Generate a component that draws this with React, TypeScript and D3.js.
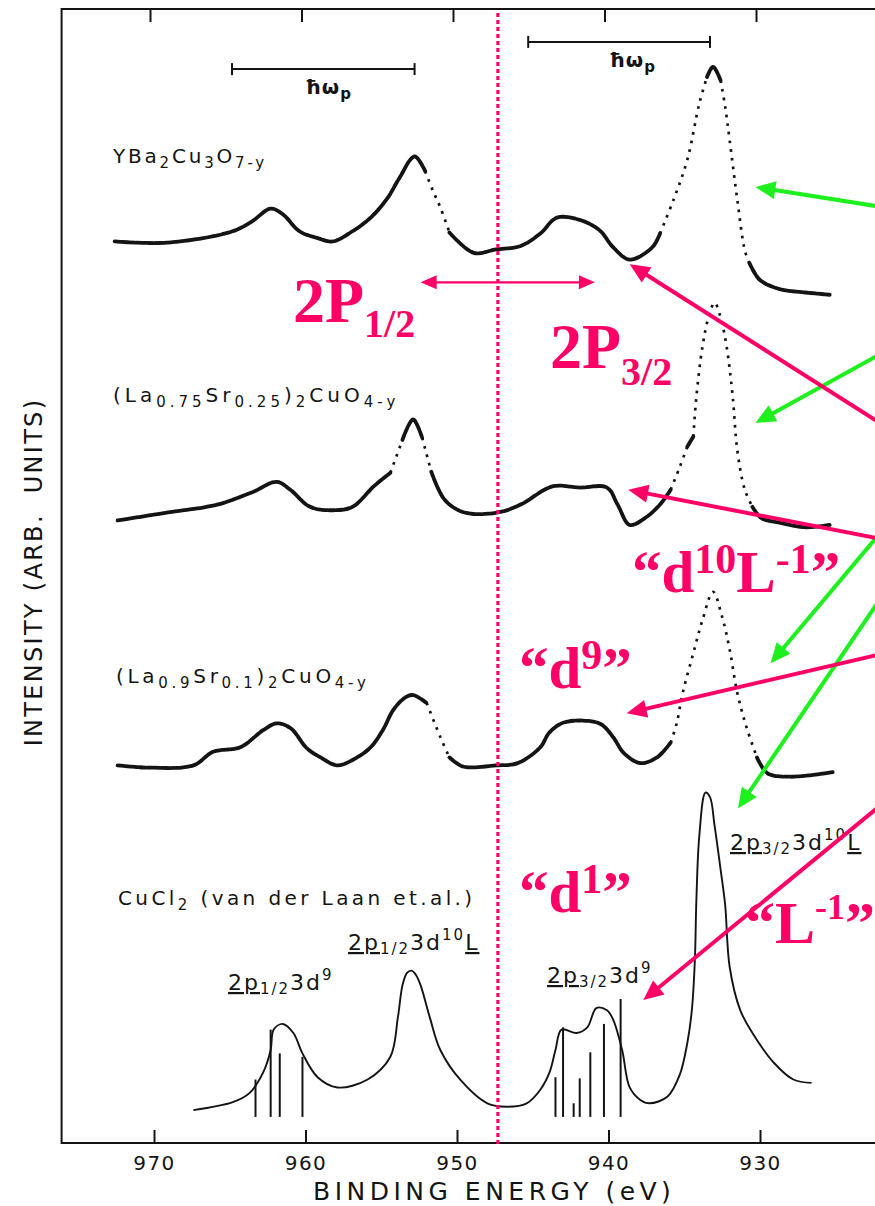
import React, { useEffect, useRef } from "react";
import * as d3 from "d3";

type Pt = [number, number];

// binding energy ticks (eV)
const energyTicks = [970, 960, 950, 940, 930];

// spectra: [binding energy (eV), intensity (arb. units, stacked offset)]
const ybco: Pt[] = [
  [972.6, 79.5], [969.1, 79.4], [964.8, 80.4], [963.5, 81.3], [962.3, 82.4], [961.5, 81.9],
  [960.4, 80.4], [959.2, 79.8], [958.2, 79.5], [956.9, 80.4], [955.7, 81.6], [954.6, 83.3],
  [953.8, 85.1], [952.8, 87.0], [952.1, 85.7], [951.6, 84.0], [951.1, 82.5], [950.5, 80.3],
  [948.9, 78.5], [947.4, 78.8], [945.8, 79.1], [944.5, 80.2], [943.4, 81.6], [941.9, 81.4],
  [940.6, 80.5], [939.7, 79.0], [938.6, 77.9], [937.1, 79.0], [936.6, 80.2], [935.7, 83.2],
  [934.8, 86.7], [934.0, 91.7], [933.5, 94.0], [933.1, 94.9], [932.6, 93.7], [932.3, 91.4],
  [932.0, 88.4], [931.5, 83.2], [931.0, 78.7], [930.7, 77.6], [930.0, 76.1], [928.7, 75.3],
  [927.0, 75.0], [925.4, 74.8],
];

const la075: Pt[] = [
  [972.4, 54.9], [969.1, 55.6], [965.8, 56.3], [963.5, 57.4], [961.9, 58.3], [961.0, 57.6],
  [959.7, 56.1], [958.2, 55.8], [956.9, 56.1], [955.5, 57.9], [954.4, 59.1], [953.6, 62.0],
  [952.9, 63.8], [952.3, 62.2], [951.7, 59.2], [950.8, 56.7], [949.5, 55.6], [947.3, 55.6],
  [945.8, 56.3], [943.7, 57.9], [941.9, 57.8], [940.1, 57.8], [939.4, 56.3], [938.6, 54.5],
  [937.6, 55.1], [936.6, 56.3], [935.9, 57.6], [935.3, 59.6], [934.8, 61.4], [934.4, 62.3],
  [934.2, 65.8], [933.8, 70.2], [933.4, 72.8], [933.0, 74.1], [932.6, 72.8], [932.2, 70.2],
  [931.8, 65.8], [931.5, 61.1], [931.0, 57.6], [930.5, 56.1], [929.9, 55.1], [928.7, 54.7],
  [927.0, 54.3], [925.4, 54.5],
];

const la09: Pt[] = [
  [972.4, 33.3], [970.3, 33.1], [967.4, 33.3], [966.1, 34.5], [964.3, 34.9], [962.8, 36.4],
  [961.9, 37.0], [961.0, 36.6], [959.9, 34.8], [959.0, 34.0], [957.9, 33.3], [956.6, 34.0],
  [955.7, 34.9], [954.9, 36.4], [954.2, 38.2], [953.4, 39.3], [952.9, 39.5], [952.0, 38.8],
  [951.1, 35.8], [950.5, 34.0], [949.6, 33.2], [947.4, 33.3], [946.0, 33.5], [944.5, 34.9],
  [943.9, 36.2], [942.9, 37.1], [940.6, 37.0], [939.7, 35.8], [939.0, 34.4], [937.9, 33.5],
  [936.8, 34.0], [935.9, 35.3], [935.5, 37.0], [935.1, 39.7], [934.4, 43.2], [933.8, 46.1],
  [933.1, 48.6], [932.5, 46.4], [932.0, 43.5], [931.5, 39.7], [930.9, 36.7], [930.2, 34.0],
  [929.5, 32.6], [928.0, 32.3], [925.2, 32.7],
];

const cucl2: Pt[] = [
  [967.4, 2.9], [964.8, 3.6], [963.7, 4.4], [962.8, 6.2], [962.3, 8.2], [962.1, 10.0],
  [961.5, 10.5], [960.8, 9.7], [960.2, 7.9], [959.2, 5.8], [957.9, 4.9], [955.9, 5.6],
  [954.4, 7.6], [953.9, 11.1], [953.6, 13.9], [953.3, 15.0], [953.0, 15.2], [952.7, 14.8],
  [952.4, 13.9], [951.8, 11.1], [951.1, 8.2], [949.8, 5.6], [948.0, 3.5], [946.7, 3.2],
  [945.4, 3.5], [944.5, 4.7], [943.9, 6.2], [943.5, 8.2], [943.1, 10.0], [942.1, 9.7],
  [941.4, 10.2], [940.8, 11.9], [940.1, 11.7], [939.7, 10.9], [939.1, 8.2], [938.6, 4.9],
  [937.9, 3.8], [937.3, 3.5], [936.1, 4.1], [935.3, 6.0], [934.8, 8.8], [934.5, 11.7],
  [934.3, 16.1], [934.2, 21.4], [934.0, 27.2], [933.6, 30.9], [933.3, 30.5], [933.0, 28.0],
  [932.6, 24.1], [932.3, 21.0], [932.0, 15.5], [931.3, 11.7], [930.5, 9.7], [929.1, 7.1],
  [927.8, 5.6], [926.6, 5.3],
];

// multiplet sticks under CuCl2: [energy, height]
const cucl2Sticks: Pt[] = [
  [963.3, 5.6], [962.3, 10.0], [961.7, 7.9], [960.2, 7.6],
  [943.5, 5.8], [943.0, 10.2], [942.3, 3.5], [941.9, 5.7], [941.2, 8.0], [940.3, 10.5], [939.2, 12.7],
];
const stickBase = 2.3;

// plasmon bars: [from eV, to eV, level]
const plasmonBars: [number, number, number][] = [
  [964.85, 952.8, 94.7],
  [945.3, 933.3, 97.1],
];

// annotation arrows [start, tip] in (eV, intensity)
const greenArrows: [Pt, Pt][] = [
  [[921.75, 82.5], [930.3, 84.3]],
  [[921.75, 69.8], [930.3, 63.5]],
  [[921.75, 54.3], [929.3, 42.3]],
  [[921.75, 48.6], [931.45, 29.5]],
];
const pinkArrows: [Pt, Pt][] = [
  [[921.75, 63.2], [938.6, 77.5]],
  [[921.75, 53.2], [938.7, 57.6]],
  [[921.75, 43.2], [938.8, 37.9]],
  [[921.75, 30.1], [937.7, 12.6]],
];
const splitArrow: [number, number, number] = [952.4, 940.9, 75.9];
const dividerEnergy = 947.3;

const PINK = "#ff0066";
const GREEN = "#1ef01e";
const INK = "#141414";
const SANS = "DejaVu Sans, sans-serif";
const SERIF = "Liberation Serif, Times New Roman, serif";

type Part = { t: string; pos?: "sub" | "sup"; u?: boolean };

function addLabel(g: any, x: number, y: number, parts: Part[], o: any) {
  const text = g.append("text")
    .attr("x", x).attr("y", y)
    .attr("font-family", o.font)
    .attr("font-weight", o.weight || "normal")
    .attr("fill", o.fill)
    .attr("letter-spacing", o.ls || 0)
    .attr("font-size", o.size)
    .style("white-space", "pre");
  let shift = 0;
  parts.forEach((p) => {
    const target = p.pos === "sub" ? o.subShift : p.pos === "sup" ? o.supShift : 0;
    const ts = text.append("tspan")
      .attr("dy", target - shift)
      .attr("font-size", p.pos ? o.small : o.size)
      .text(p.t);
    if (p.u) ts.attr("text-decoration", "underline");
    shift = target;
  });
}

function arrow(g: any, s: Pt, t: Pt, color: string, width: number, headLen: number, headHalf: number, both = false) {
  const dx = t[0] - s[0], dy = t[1] - s[1];
  const len = Math.hypot(dx, dy);
  const ux = dx / len, uy = dy / len;
  const nx = -uy, ny = ux;
  const head = (tx: number, ty: number, ax: number, ay: number) => {
    const bx = tx - ax * headLen, by = ty - ay * headLen;
    g.append("path")
      .attr("d", `M${tx},${ty}L${bx + nx * headHalf},${by + ny * headHalf}L${bx - nx * headHalf},${by - ny * headHalf}Z`)
      .attr("fill", color);
  };
  const a: Pt = both ? [s[0] + ux * headLen * 0.8, s[1] + uy * headLen * 0.8] : s;
  const b: Pt = [t[0] - ux * headLen * 0.8, t[1] - uy * headLen * 0.8];
  g.append("path")
    .attr("d", d3.line()([a, b]))
    .attr("stroke", color).attr("stroke-width", width).attr("fill", "none");
  head(t[0], t[1], ux, uy);
  if (both) head(s[0], s[1], -ux, -uy);
}

function drawChart(node: SVGSVGElement) {
  const svg = d3.select(node);
  svg.selectAll("*").remove();

  const x = d3.scaleLinear().domain([970, 930]).range([154, 760]);
  const y = d3.scaleLinear().domain([0, 100]).range([1143, 9]);

  const g = svg.append("g");

  // frame
  g.append("path")
    .attr("d", `M${x(916)},${y(100)}H${x(976.1)}V${y(0)}H${x(916)}`)
    .attr("fill", "none").attr("stroke", INK).attr("stroke-width", 2);

  // bottom axis (ticks pointing inward)
  const bottom = g.append("g")
    .attr("transform", `translate(0,${y(0)})`)
    .call(d3.axisBottom(x).tickValues(energyTicks).tickSizeInner(-13).tickSizeOuter(0).tickPadding(13));
  bottom.select(".domain").remove();
  bottom.selectAll("line").attr("stroke", INK).attr("stroke-width", 2);
  bottom.selectAll("text")
    .attr("font-family", SANS).attr("font-size", 20).attr("letter-spacing", 1.5)
    .attr("fill", INK);

  // top axis (slightly skewed in the scan)
  const top = g.append("g")
    .attr("transform", `translate(-4,${y(100)})`)
    .call(d3.axisTop(x).tickValues(energyTicks).tickSizeInner(-13).tickSizeOuter(0).tickFormat(() => ""));
  top.select(".domain").remove();
  top.selectAll("line").attr("stroke", INK).attr("stroke-width", 2);

  // axis titles
  g.append("text")
    .attr("x", 313).attr("y", 1200)
    .attr("font-family", SANS).attr("font-size", 25).attr("letter-spacing", 4.5)
    .attr("fill", INK).text("BINDING ENERGY (eV)");
  g.append("text")
    .attr("transform", "translate(42,572) rotate(-90)")
    .attr("text-anchor", "middle")
    .attr("font-family", SANS).attr("font-size", 24).attr("letter-spacing", 2.3)
    .attr("fill", INK).style("white-space", "pre")
    .text("INTENSITY (ARB.  UNITS)");

  // plasmon bars
  plasmonBars.forEach(([a, b, v]) => {
    g.append("path")
      .attr("d", d3.line()([[x(a), y(v)], [x(b), y(v)]]))
      .attr("stroke", INK).attr("stroke-width", 2);
    [a, b].forEach((e) => {
      g.append("path")
        .attr("d", d3.line()([[x(e), y(v) - 6], [x(e), y(v) + 6]]))
        .attr("stroke", INK).attr("stroke-width", 2);
    });
  });
  const hw = { font: SANS, weight: "bold", size: 20, small: 15, subShift: 5, fill: INK, ls: 1 };
  addLabel(g, 305, 94, [{ t: "\u0127\u03C9" }, { t: "p", pos: "sub" }], hw);
  addLabel(g, 609, 67, [{ t: "\u0127\u03C9" }, { t: "p", pos: "sub" }], hw);

  // noisy measured spectra: smooth runs, steep flanks drawn as sparse dots
  const smooth = d3.line<Pt>().curve(d3.curveCatmullRom.alpha(0.5));
  const drawNoisy = (data: Pt[]) => {
    const pts = data.map((d) => [x(d[0]), y(d[1])] as Pt);
    const steep = pts.slice(1).map((p, i) =>
      Math.abs(p[1] - pts[i][1]) / Math.max(0.1, Math.abs(p[0] - pts[i][0])) > 2.2);
    let i = 0;
    while (i < steep.length) {
      let j = i;
      while (j + 1 < steep.length && steep[j + 1] === steep[i]) j++;
      const run = pts.slice(Math.max(0, i - 1), Math.min(pts.length, j + 3));
      const core = pts.slice(i, j + 2);
      g.append("path")
        .attr("d", smooth(run.length > core.length ? core : core))
        .attr("fill", "none").attr("stroke", INK)
        .attr("stroke-width", steep[i] ? 2.7 : 3.8)
        .attr("stroke-linecap", steep[i] ? "butt" : "round")
        .attr("stroke-linejoin", "round")
        .attr("stroke-dasharray", steep[i] ? "2.7 6" : "6 1.3");
      i = j + 1;
    }
  };
  [ybco, la075, la09].forEach(drawNoisy);

  // CuCl2 reference
  g.append("path")
    .datum(cucl2)
    .attr("d", d3.line<Pt>().x((d) => x(d[0])).y((d) => y(d[1])).curve(d3.curveCatmullRom.alpha(0.5)))
    .attr("fill", "none").attr("stroke", INK).attr("stroke-width", 1.9);
  cucl2Sticks.forEach(([e, h]) => {
    g.append("path")
      .attr("d", d3.line()([[x(e), y(stickBase)], [x(e), y(h)]]))
      .attr("stroke", INK).attr("stroke-width", 2);
  });

  // sample labels
  const lab = { font: SANS, size: 20, small: 15, subShift: 5, supShift: -8, fill: INK };
  addLabel(g, 113, 163, [{ t: "YBa" }, { t: "2", pos: "sub" }, { t: "Cu" }, { t: "3", pos: "sub" }, { t: "O" }, { t: "7-y", pos: "sub" }], { ...lab, ls: 2.8 });
  addLabel(g, 113, 402, [{ t: "(La" }, { t: "0.75", pos: "sub" }, { t: "Sr" }, { t: "0.25", pos: "sub" }, { t: ")" }, { t: "2", pos: "sub" }, { t: "CuO" }, { t: "4-y", pos: "sub" }], { ...lab, ls: 4 });
  addLabel(g, 116, 683, [{ t: "(La" }, { t: "0.9", pos: "sub" }, { t: "Sr" }, { t: "0.1", pos: "sub" }, { t: ")" }, { t: "2", pos: "sub" }, { t: "CuO" }, { t: "4-y", pos: "sub" }], { ...lab, ls: 3.7 });
  addLabel(g, 118, 905, [{ t: "CuCl" }, { t: "2", pos: "sub" }, { t: " (van der Laan et.al.)" }], { ...lab, ls: 3.4 });

  const pk = { font: SANS, size: 22, small: 15, subShift: 4, supShift: -10, fill: INK, ls: 2 };
  addLabel(g, 228, 990, [{ t: "2p", u: true }, { t: "1/2", pos: "sub" }, { t: "3d" }, { t: "9", pos: "sup" }], pk);
  addLabel(g, 348, 950, [{ t: "2p", u: true }, { t: "1/2", pos: "sub" }, { t: "3d" }, { t: "10", pos: "sup" }, { t: "L", u: true }], pk);
  addLabel(g, 547, 983, [{ t: "2p", u: true }, { t: "3/2", pos: "sub" }, { t: "3d" }, { t: "9", pos: "sup" }], pk);
  addLabel(g, 730, 850, [{ t: "2p", u: true }, { t: "3/2", pos: "sub" }, { t: "3d" }, { t: "10", pos: "sup" }, { t: "L", u: true }], pk);

  // dotted divider
  g.append("path")
    .attr("d", d3.line()([[x(dividerEnergy), y(100) + 4], [x(dividerEnergy), y(0) + 2]]))
    .attr("stroke", PINK).attr("stroke-width", 3.2).attr("stroke-dasharray", "4 3");

  // arrows
  const P = (p: Pt): Pt => [x(p[0]), y(p[1])];
  greenArrows.forEach(([s, t]) => arrow(g, P(s), P(t), GREEN, 4, 20, 9));
  pinkArrows.forEach(([s, t]) => arrow(g, P(s), P(t), PINK, 4, 20, 9));
  arrow(g, [x(splitArrow[0]), y(splitArrow[2])], [x(splitArrow[1]), y(splitArrow[2])], PINK, 2.2, 16, 7, true);

  // pink annotations
  const big = { font: SERIF, weight: "bold", fill: PINK, size: 64, small: 40, subShift: 15 };
  addLabel(g, 293, 322, [{ t: "2P" }, { t: "1/2", pos: "sub" }], big);
  addLabel(g, 550, 368, [{ t: "2P" }, { t: "3/2", pos: "sub" }], { ...big, subShift: 17 });
  const q = { font: SERIF, weight: "bold", fill: PINK, size: 59, small: 42, supShift: -19 };
  addLabel(g, 632, 592, [{ t: "\u201Cd" }, { t: "10", pos: "sup" }, { t: "L" }, { t: "-1", pos: "sup" }, { t: "\u201D" }], q);
  addLabel(g, 519, 688, [{ t: "\u201Cd" }, { t: "9", pos: "sup" }, { t: "\u201D" }], q);
  addLabel(g, 519, 912, [{ t: "\u201Cd" }, { t: "1", pos: "sup" }, { t: "\u201D" }], q);
  addLabel(g, 745, 943, [{ t: "\u201CL" }, { t: "-1", pos: "sup" }, { t: "\u201D" }], { ...q, size: 60, small: 36, supShift: -24 });
}

export default function App() {
  const ref = useRef<SVGSVGElement>(null);
  useEffect(() => {
    if (ref.current) drawChart(ref.current);
  }, []);
  return (
    <svg
      ref={ref}
      width={875}
      height={1206}
      style={{ position: "absolute", left: 0, top: 0, background: "#fff", display: "block" }}
    />
  );
}
